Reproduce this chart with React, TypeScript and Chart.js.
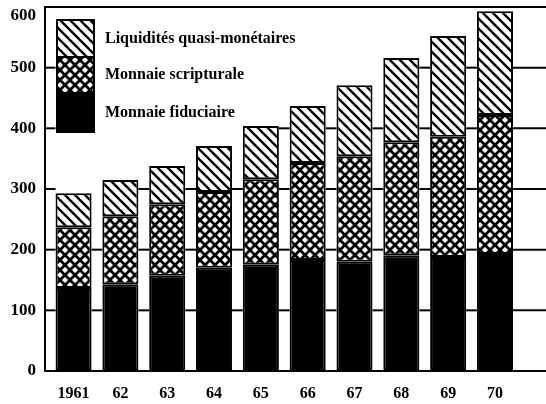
import React, { useEffect, useRef } from 'react';
import { Chart, registerables } from 'chart.js';

Chart.register(...registerables);

const years = ['1961', '62', '63', '64', '65', '66', '67', '68', '69', '70'];
const fiduciaire = [137, 143, 157, 170, 175, 183, 180, 191, 188, 193];
const scripturale = [100, 112, 118, 125, 141, 160, 174, 186, 198, 229];
const quasiMonetaire = [56, 60, 63, 76, 88, 94, 117, 139, 166, 171];
const seriesNames = ['Liquidités quasi-monétaires', 'Monnaie scripturale', 'Monnaie fiduciaire'];
const yTicks = [0, 100, 200, 300, 400, 500, 600];

const FONT = '"Liberation Serif", "Times New Roman", serif';

function makeHatch(): CanvasPattern {
  const c = document.createElement('canvas');
  c.width = 10;
  c.height = 10;
  const g = c.getContext('2d')!;
  g.fillStyle = '#fff';
  g.fillRect(0, 0, 10, 10);
  g.strokeStyle = '#000';
  g.lineWidth = 2.4;
  for (const k of [-10, 0, 10]) {
    g.beginPath();
    g.moveTo(k - 3, -3);
    g.lineTo(k + 13, 13);
    g.stroke();
  }
  return g.createPattern(c, 'repeat')!;
}

function makeCross(): CanvasPattern {
  const c = document.createElement('canvas');
  c.width = 10;
  c.height = 10;
  const g = c.getContext('2d')!;
  g.fillStyle = '#fff';
  g.fillRect(0, 0, 10, 10);
  g.strokeStyle = '#000';
  g.lineWidth = 2.7;
  for (const k of [-10, 0, 10]) {
    g.beginPath();
    g.moveTo(k - 3, -3);
    g.lineTo(k + 13, 13);
    g.stroke();
    g.beginPath();
    g.moveTo(k + 13, -3);
    g.lineTo(k - 3, 13);
    g.stroke();
  }
  return g.createPattern(c, 'repeat')!;
}

export default function App() {
  const ref = useRef<HTMLCanvasElement>(null);

  useEffect(() => {
    document.body.style.margin = '0';
    const canvas = ref.current!;
    const hatch = makeHatch();
    const cross = makeCross();
    const fills = [hatch, cross, '#000'];

    // grid lines visible only in the gaps between bars (below the lower neighbour's top)
    const gapGridPlugin = {
      id: 'gapGrid',
      beforeDatasetsDraw(chart: any) {
        const { ctx, chartArea, scales } = chart;
        const topMeta = chart.getDatasetMeta(chart.data.datasets.length - 1);
        const bars = topMeta.data.map((el: any) => {
          const p = el.getProps(['x', 'y', 'width'], true);
          return { l: p.x - p.width / 2, r: p.x + p.width / 2, top: p.y };
        });
        const last = bars.length - 1;
        ctx.save();
        ctx.strokeStyle = '#000';
        ctx.lineWidth = 2;
        yTicks.forEach((v, idx) => {
          if (idx === 0) return;
          const py = scales.y.getPixelForValue(v);
          const segs: number[][] = [];
          if (idx === yTicks.length - 1) {
            segs.push([chartArea.left, chartArea.right]);
          } else {
            segs.push([chartArea.left, bars[0].l]);
            for (let i = 0; i < last; i++) {
              if (bars[i].top <= py && bars[i + 1].top <= py) segs.push([bars[i].r, bars[i + 1].l]);
            }
            if (bars[last].top <= py) segs.push([bars[last].r, chartArea.right]);
          }
          segs.forEach(([a, b]) => {
            ctx.beginPath();
            ctx.moveTo(a, py);
            ctx.lineTo(b, py);
            ctx.stroke();
          });
        });
        ctx.restore();
      },
    };

    const legendPlugin = {
      id: 'stackLegend',
      afterDraw(chart: any) {
        const ctx = chart.ctx as CanvasRenderingContext2D;
        const area = chart.chartArea;
        const x = area.left + 12;
        const y0 = area.top + 13;
        const w = 37;
        const hs = [37, 36, 39];
        let y = y0;
        ctx.save();
        seriesNames.forEach((name, i) => {
          ctx.fillStyle = fills[i] as any;
          ctx.fillRect(x, y, w, hs[i]);
          ctx.strokeStyle = '#000';
          ctx.lineWidth = 2;
          ctx.strokeRect(x, y, w, hs[i]);
          ctx.fillStyle = '#000';
          ctx.font = `bold 16px ${FONT}`;
          ctx.textBaseline = 'middle';
          ctx.textAlign = 'left';
          ctx.fillText(name, x + 48, y + hs[i] / 2);
          y += hs[i];
        });
        ctx.restore();
      },
    };

    const toXY = (arr: number[]) => arr.map((v, i) => ({ x: i, y: v }));

    const common = {
      borderColor: '#000',
      borderWidth: 2,
      borderSkipped: false as const,
      barPercentage: 0.77,
      categoryPercentage: 1,
    };

    const chart = new Chart(canvas, {
      type: 'bar',
      data: {
        datasets: [
          { label: seriesNames[2], data: toXY(fiduciaire), backgroundColor: '#000', ...common },
          { label: seriesNames[1], data: toXY(scripturale), backgroundColor: cross, ...common },
          { label: seriesNames[0], data: toXY(quasiMonetaire), backgroundColor: hatch, ...common },
        ],
      },
      options: {
        animation: false,
        responsive: false,
        devicePixelRatio: 1,
        layout: { padding: { top: 7, right: 0, left: 0, bottom: 0 } },
        plugins: {
          legend: { display: false },
          tooltip: { enabled: false },
        },
        scales: {
          x: {
            type: 'linear',
            stacked: true,
            offset: false,
            min: -0.61,
            max: 10.09,
            grid: { display: false, drawTicks: false, offset: false },
            border: { display: true, color: '#000', width: 2 },
            afterBuildTicks: (s: any) => {
              s.ticks = years.map((_, i) => ({ value: i }));
            },
            afterFit: (s: any) => {
              s.height = 33;
              s.paddingLeft = 0;
              s.paddingRight = 0;
            },
            ticks: {
              color: '#000',
              padding: 13,
              maxRotation: 0,
              autoSkip: false,
              font: { family: FONT, weight: 'bold', size: 16 },
              callback: (v: any) => years[v as number] ?? '',
            },
          },
          y: {
            stacked: true,
            min: 0,
            max: 600,
            afterBuildTicks: (s: any) => {
              s.ticks = yTicks.map((v) => ({ value: v }));
            },
            afterFit: (s: any) => {
              s.width = 45;
              s.paddingTop = 0;
              s.paddingBottom = 0;
            },
            grid: { display: false, drawTicks: false },
            border: { display: true, color: '#000', width: 2 },
            ticks: {
              color: '#000',
              padding: 9,
              font: { family: FONT, weight: 'bold', size: 17, lineHeight: 1.0 },
              callback: (v: any) => (v === yTicks[yTicks.length - 1] ? ['', String(v)] : String(v)),
            },
          },
        },
      },
      plugins: [gapGridPlugin, legendPlugin],
    });

    return () => chart.destroy();
  }, []);

  return (
    <div style={{ width: 546, height: 404, background: '#fff' }}>
      <canvas ref={ref} width={546} height={404} style={{ display: 'block' }} />
    </div>
  );
}
